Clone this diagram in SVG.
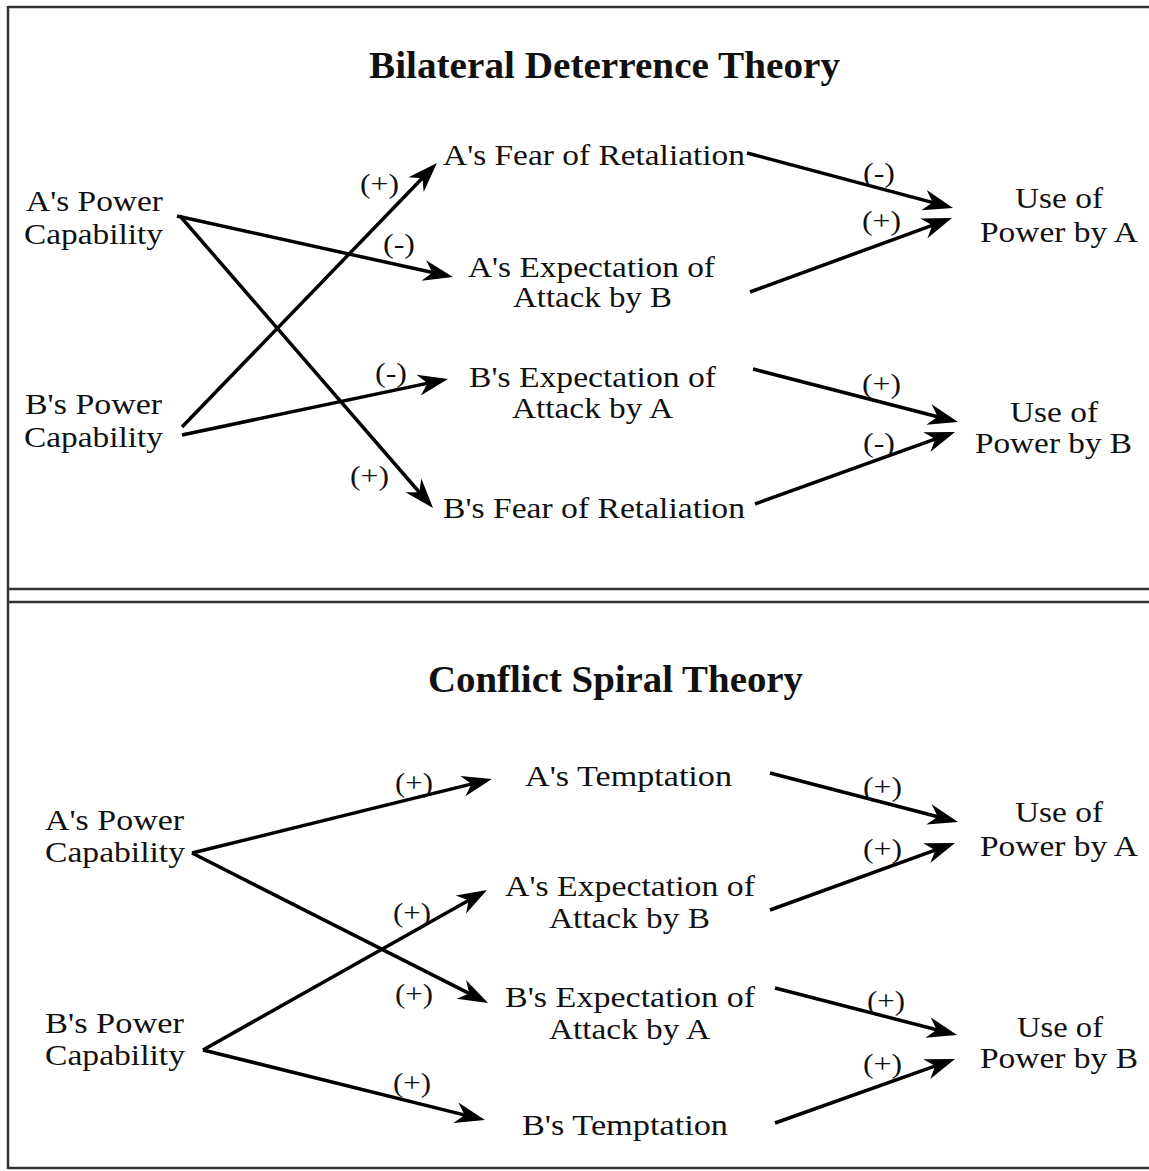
<svg xmlns="http://www.w3.org/2000/svg" width="1149" height="1171" viewBox="0 0 1149 1171">
<style>
text{font-family:"Liberation Serif","Times New Roman",serif;fill:#111;}
.t{font-size:38px;font-weight:bold;}
.n{font-size:29px;}
.l{font-size:27px;}
.c line{stroke:#000;stroke-width:3.5;marker-end:url(#ah);}
.frame{stroke:#333;stroke-width:2.5;fill:none;}
</style>
<defs>
<marker id="ah" markerUnits="userSpaceOnUse" viewBox="-24 -12 34 24" markerWidth="34" markerHeight="24" refX="0" refY="0" orient="auto">
<path d="M8,0 L-22,-10.5 L-13,0 L-22,10.5 Z" fill="#000"/>
</marker>
</defs>
<rect width="1149" height="1171" fill="#fff"/>
<g id="frame">
<line class="frame" x1="8" y1="7" x2="1149" y2="7"/>
<line class="frame" x1="8" y1="6" x2="8" y2="1169" stroke-width="3"/>
<line class="frame" x1="8" y1="589" x2="1149" y2="589"/>
<line class="frame" x1="8" y1="602" x2="1149" y2="602"/>
<line class="frame" x1="8" y1="1168" x2="1149" y2="1168"/>
</g>
<g id="titles">
<text class="t" x="369" y="78" textLength="471" lengthAdjust="spacingAndGlyphs">Bilateral Deterrence Theory</text>
<text class="t" x="428" y="692" textLength="375" lengthAdjust="spacingAndGlyphs">Conflict Spiral Theory</text>
</g>
<g class="c" id="connectors">
<line x1="177" y1="216" x2="445.2" y2="275.3"/>
<line x1="180" y1="216" x2="427.8" y2="502.0"/>
<line x1="182" y1="427" x2="431.4" y2="168.8"/>
<line x1="182" y1="435" x2="440.2" y2="380.6"/>
<line x1="747" y1="153" x2="945.3" y2="205.9"/>
<line x1="750" y1="292" x2="944.5" y2="220.8"/>
<line x1="753" y1="369" x2="950.3" y2="420.0"/>
<line x1="755" y1="504" x2="947.5" y2="434.7"/>
<line x1="192" y1="853" x2="484.2" y2="780.9"/>
<line x1="192" y1="853" x2="480.9" y2="999.4"/>
<line x1="203" y1="1050" x2="480.0" y2="893.9"/>
<line x1="203" y1="1050" x2="477.2" y2="1118.1"/>
<line x1="770" y1="773" x2="950.3" y2="820.0"/>
<line x1="770" y1="910" x2="947.5" y2="845.7"/>
<line x1="775" y1="988" x2="949.3" y2="1033"/>
<line x1="775" y1="1123" x2="947.5" y2="1061.7"/>
</g>
<g id="edge-labels">
<text class="l" x="360" y="193" textLength="39" lengthAdjust="spacingAndGlyphs">(+)</text>
<text class="l" x="383" y="253" textLength="32" lengthAdjust="spacingAndGlyphs">(-)</text>
<text class="l" x="375" y="382" textLength="32" lengthAdjust="spacingAndGlyphs">(-)</text>
<text class="l" x="350" y="485" textLength="39" lengthAdjust="spacingAndGlyphs">(+)</text>
<text class="l" x="863" y="182" textLength="32" lengthAdjust="spacingAndGlyphs">(-)</text>
<text class="l" x="862" y="230" textLength="39" lengthAdjust="spacingAndGlyphs">(+)</text>
<text class="l" x="862" y="393" textLength="39" lengthAdjust="spacingAndGlyphs">(+)</text>
<text class="l" x="863" y="452" textLength="32" lengthAdjust="spacingAndGlyphs">(-)</text>
<text class="l" x="395" y="792" textLength="38" lengthAdjust="spacingAndGlyphs">(+)</text>
<text class="l" x="393" y="922" textLength="38" lengthAdjust="spacingAndGlyphs">(+)</text>
<text class="l" x="395" y="1003" textLength="38" lengthAdjust="spacingAndGlyphs">(+)</text>
<text class="l" x="393" y="1092" textLength="38" lengthAdjust="spacingAndGlyphs">(+)</text>
<text class="l" x="863" y="796" textLength="39" lengthAdjust="spacingAndGlyphs">(+)</text>
<text class="l" x="863" y="858" textLength="39" lengthAdjust="spacingAndGlyphs">(+)</text>
<text class="l" x="867" y="1010" textLength="38" lengthAdjust="spacingAndGlyphs">(+)</text>
<text class="l" x="863" y="1073" textLength="39" lengthAdjust="spacingAndGlyphs">(+)</text>
</g>
<g id="bd-a-power"><text class="n" x="26" y="211" textLength="137" lengthAdjust="spacingAndGlyphs">A's Power</text><text class="n" x="24" y="244" textLength="139" lengthAdjust="spacingAndGlyphs">Capability</text></g>
<g id="bd-b-power"><text class="n" x="25" y="414" textLength="137" lengthAdjust="spacingAndGlyphs">B's Power</text><text class="n" x="24" y="447" textLength="139" lengthAdjust="spacingAndGlyphs">Capability</text></g>
<g id="bd-a-fear"><text class="n" x="443" y="165" textLength="302" lengthAdjust="spacingAndGlyphs">A's Fear of Retaliation</text></g>
<g id="bd-a-expect"><text class="n" x="468" y="277" textLength="247" lengthAdjust="spacingAndGlyphs">A's Expectation of</text><text class="n" x="513" y="307" textLength="159" lengthAdjust="spacingAndGlyphs">Attack by B</text></g>
<g id="bd-b-expect"><text class="n" x="469" y="387" textLength="247" lengthAdjust="spacingAndGlyphs">B's Expectation of</text><text class="n" x="512" y="418" textLength="161" lengthAdjust="spacingAndGlyphs">Attack by A</text></g>
<g id="bd-b-fear"><text class="n" x="443" y="518" textLength="302" lengthAdjust="spacingAndGlyphs">B's Fear of Retaliation</text></g>
<g id="bd-use-a"><text class="n" x="1015" y="208" textLength="88" lengthAdjust="spacingAndGlyphs">Use of</text><text class="n" x="980" y="242" textLength="158" lengthAdjust="spacingAndGlyphs">Power by A</text></g>
<g id="bd-use-b"><text class="n" x="1010" y="422" textLength="88" lengthAdjust="spacingAndGlyphs">Use of</text><text class="n" x="975" y="453" textLength="157" lengthAdjust="spacingAndGlyphs">Power by B</text></g>
<g id="cs-a-power"><text class="n" x="45" y="830" textLength="139" lengthAdjust="spacingAndGlyphs">A's Power</text><text class="n" x="45" y="862" textLength="140" lengthAdjust="spacingAndGlyphs">Capability</text></g>
<g id="cs-b-power"><text class="n" x="45" y="1033" textLength="139" lengthAdjust="spacingAndGlyphs">B's Power</text><text class="n" x="45" y="1065" textLength="140" lengthAdjust="spacingAndGlyphs">Capability</text></g>
<g id="cs-a-tempt"><text class="n" x="525" y="786" textLength="207" lengthAdjust="spacingAndGlyphs">A's Temptation</text></g>
<g id="cs-a-expect"><text class="n" x="505" y="896" textLength="250" lengthAdjust="spacingAndGlyphs">A's Expectation of</text><text class="n" x="549" y="928" textLength="161" lengthAdjust="spacingAndGlyphs">Attack by B</text></g>
<g id="cs-b-expect"><text class="n" x="505" y="1007" textLength="250" lengthAdjust="spacingAndGlyphs">B's Expectation of</text><text class="n" x="549" y="1039" textLength="161" lengthAdjust="spacingAndGlyphs">Attack by A</text></g>
<g id="cs-b-tempt"><text class="n" x="522" y="1135" textLength="206" lengthAdjust="spacingAndGlyphs">B's Temptation</text></g>
<g id="cs-use-a"><text class="n" x="1015" y="822" textLength="88" lengthAdjust="spacingAndGlyphs">Use of</text><text class="n" x="980" y="856" textLength="158" lengthAdjust="spacingAndGlyphs">Power by A</text></g>
<g id="cs-use-b"><text class="n" x="1017" y="1037" textLength="86" lengthAdjust="spacingAndGlyphs">Use of</text><text class="n" x="980" y="1068" textLength="158" lengthAdjust="spacingAndGlyphs">Power by B</text></g>
</svg>
